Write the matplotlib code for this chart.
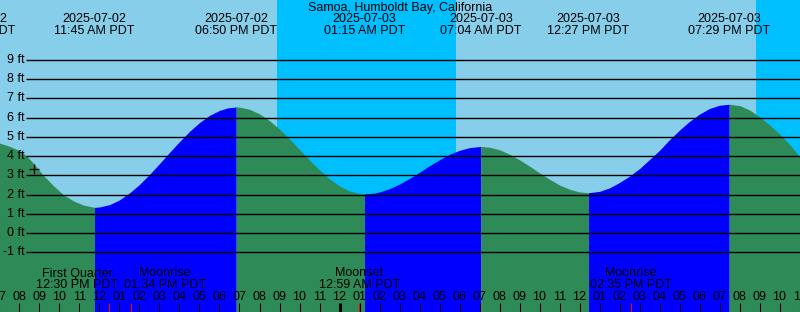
import numpy as np
import matplotlib
matplotlib.use("Agg")
import matplotlib.pyplot as plt

plt.rcParams['font.family'] = ['Liberation Sans', 'DejaVu Sans']

# ── Data (hours counted from 2025-07-02 00:00 PDT) ───────────────────────────
station = "Samoa, Humboldt Bay, California"

# tide height readings (ft)
tide_t = [5.78, 6.5, 7.025, 7.525, 8.025, 8.36, 8.775, 9.19, 9.69, 10.19, 10.69, 11.19, 11.75,
          12, 12.5, 13, 13.5, 14, 14.5, 15, 15.5, 16, 16.5, 17, 17.5, 18, 18.4, 18.833,
          19, 19.5, 20, 20.5, 21, 21.5, 22, 22.5, 23, 23.5, 24, 24.5, 25, 25.25,
          25.75, 26, 26.5, 27, 27.5, 28, 28.5, 29, 29.5, 30, 30.5, 31.067,
          31.5, 32, 32.5, 33, 33.5, 34, 34.5, 35, 35.5, 36, 36.45,
          37, 37.5, 38, 38.5, 39, 39.5, 40, 40.5, 41, 41.5, 42, 42.5, 43, 43.483,
          44.025, 44.525, 45.025, 45.525, 46.025, 46.525, 47.025, 47.5]
tide_h = [4.90, 4.81, 4.67, 4.50, 4.27, 4.00, 3.54, 3.00, 2.47, 2.00, 1.68, 1.46, 1.34,
          1.36, 1.48, 1.73, 2.09, 2.53, 3.05, 3.61, 4.19, 4.75, 5.28, 5.74, 6.11, 6.37, 6.50, 6.55,
          6.54, 6.43, 6.19, 5.84, 5.40, 4.89, 4.34, 3.79, 3.28, 2.82, 2.45, 2.19, 2.06, 2.04,
          2.08, 2.14, 2.31, 2.55, 2.84, 3.16, 3.50, 3.81, 4.09, 4.30, 4.44, 4.50,
          4.46, 4.33, 4.10, 3.81, 3.48, 3.13, 2.80, 2.50, 2.28, 2.14, 2.10,
          2.17, 2.35, 2.63, 2.96, 3.35, 3.82, 4.30, 4.85, 5.35, 5.80, 6.18, 6.47, 6.64, 6.69,
          6.62, 6.38, 6.02, 5.60, 5.13, 4.58, 3.95, 3.40]

# high / low tides
ext_t = [5.78, 11.75, 18.833, 25.25, 31.067, 36.45, 43.483]
ext_date = ['2025-07-02', '2025-07-02', '2025-07-02', '2025-07-03',
            '2025-07-03', '2025-07-03', '2025-07-03']
ext_time = ['05:47 AM PDT', '11:45 AM PDT', '06:50 PM PDT', '01:15 AM PDT',
            '07:04 AM PDT', '12:27 PM PDT', '07:29 PM PDT']

# night (sunset -> sunrise)
night_start = [20.875, 44.825]
night_end = [29.825, 50.0]

# moon events
moon_t = [12.5, 13.567, 24.983, 38.583]
moon_name = ['First Quarter', 'Moonrise', 'Moonset', 'Moonrise']
moon_time = ['12:30 PM PDT', '01:34 PM PDT', '12:59 AM PDT', '02:35 PM PDT']
moon_dx = [-32, 34, 0, 0]          # label shift in pixels (overlap avoidance)

# current time marker
now_t, now_h = 8.725, 3.32

ft_levels = list(range(-1, 10))
hour_ticks = list(range(7, 48))
hour_labels = ['%02d' % (h % 12 or 12) for h in hour_ticks]

# ── Layout ───────────────────────────────────────────────────────────────────
W, H = 800, 312
T0 = 7.025
PX_PER_H = 20.0
Y_TOP, Y_BOT = 12.10, -4.09

DAY = '#87CEEB'
NIGHT = '#00BFFF'
RISE = '#0000FF'
FALL = '#2E8B57'
FS = 9

fig = plt.figure(figsize=(W / 100, H / 100), dpi=100)
ax = fig.add_axes([0, 0, 1, 1])
ax.set_xlim(T0, T0 + W / PX_PER_H)
ax.set_ylim(Y_BOT, Y_TOP)
ax.axis('off')
ax.set_facecolor(DAY)
fig.patch.set_facecolor(DAY)

def ay(ypx):
    return 1 - ypx / H

# night shading
for s, e in zip(night_start, night_end):
    ax.axvspan(s, e, color=NIGHT, lw=0, zorder=1)

# tide fill, blue while rising, green while falling
t = np.array(tide_t)
h = np.array(tide_h)
bounds = ext_t + [tide_t[-1]]
for a, b in zip(bounds[:-1], bounds[1:]):
    m = (t >= a) & (t <= b)
    rising = np.interp(b, t, h) > np.interp(a, t, h)
    ax.fill_between(t[m], h[m], Y_BOT, color=RISE if rising else FALL,
                    lw=0, zorder=2)

# grid lines and ft labels
ytr = ax.get_yaxis_transform()
for lv in ft_levels:
    ax.plot([26 / W, 1], [lv, lv], color='black', lw=1.0, transform=ytr,
            zorder=3, solid_capstyle='butt')
    ax.text(24.5 / W, lv, f'{lv} ft', transform=ytr, ha='right', va='center',
            fontsize=FS, zorder=4)

xtr = ax.get_xaxis_transform()

# title and tide labels
ax.text(0.5, ay(8), station, transform=ax.transAxes, ha='center', va='center',
        fontsize=FS, zorder=4)
for tt, d, tm in zip(ext_t, ext_date, ext_time):
    ax.text(tt, ay(19.5), d, transform=xtr, ha='center', va='center', fontsize=FS, zorder=4)
    ax.text(tt, ay(31.5), tm, transform=xtr, ha='center', va='center', fontsize=FS, zorder=4)

# moon labels
for tt, nm, tm, dx in zip(moon_t, moon_name, moon_time, moon_dx):
    xl = tt + dx / PX_PER_H
    ax.text(xl, ay(273.5), nm, transform=xtr, ha='center', va='center', fontsize=FS, zorder=4)
    ax.text(xl, ay(285), tm, transform=xtr, ha='center', va='center', fontsize=FS, zorder=4)

# hour ticks
for hr, lab in zip(hour_ticks, hour_labels):
    lw = 2.2 if hr % 24 == 0 else 0.75
    ax.plot([hr, hr], [0, 8.7 / H], color='black', lw=lw, transform=xtr,
            zorder=4, solid_capstyle='butt')
    ax.text(hr, ay(297.5), lab, transform=xtr, ha='center', va='center',
            fontsize=FS, zorder=4)
for tt in moon_t:
    ax.plot([tt, tt], [0, 8.7 / H], color='red', lw=0.75, transform=xtr,
            zorder=4, solid_capstyle='butt')

# now marker
ax.plot(now_t, now_h, marker='+', color='black', markersize=7, mew=0.9, zorder=5)

plt.savefig('out.png', dpi=100)
plt.close()
